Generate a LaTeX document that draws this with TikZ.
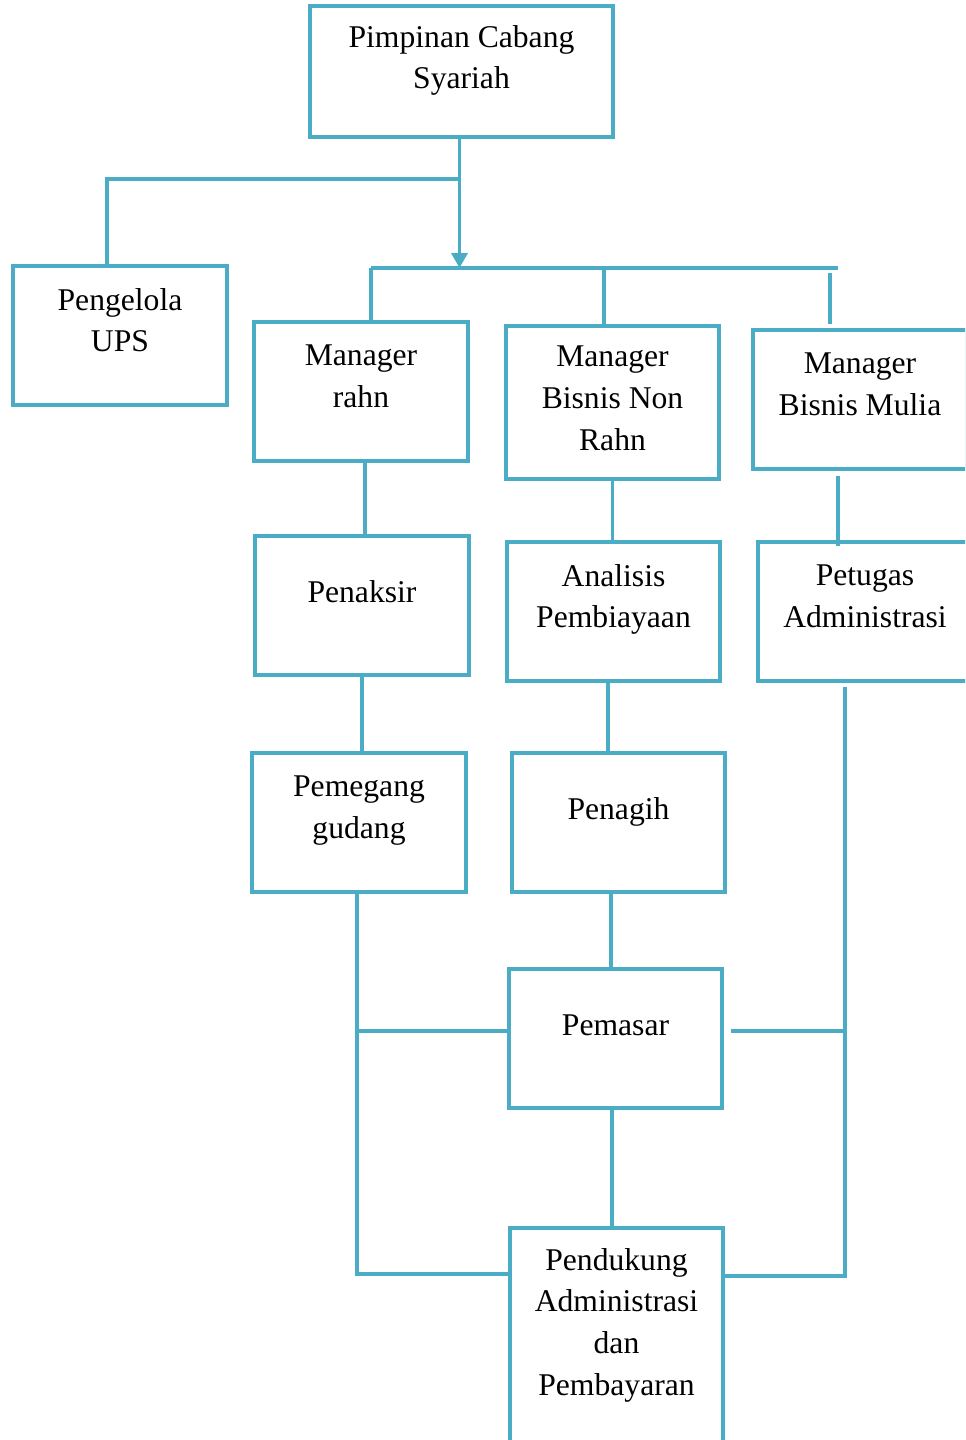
\documentclass[tikz,border=0pt]{standalone}
\usepackage{fontspec}
\setmainfont{Liberation Serif}
\usepackage{xcolor}
\usepackage{tikz}
\usetikzlibrary{arrows.meta}
\definecolor{garis}{HTML}{4BACC6}

\begin{document}
\begin{tikzpicture}[
        kotak/.style={draw=garis,line width=2pt,minimum width=4.28cm,minimum height=2.78cm,inner sep=0pt},
        teks/.style={anchor=north,align=center,inner sep=0pt,font=\fontsize{18}{23.8}\selectfont},
        hub/.style={draw=garis,line width=2pt}]
                    \useasboundingbox (0,0) rectangle (19.3,-28.8);
                    \clip (0,0) rectangle (19.3,-28.8);

                    \node[kotak,minimum width=6.06cm,minimum height=2.62cm] (pcs) at (9.23,-1.43){};
                    \node[kotak] (ups) at (2.40,-6.71){};
                    \node[kotak] (rahn) at (7.22,-7.83){};
                    \node[kotak,minimum width=4.26cm,minimum height=3.06cm] (nonrahn) at (12.25,-8.05){};
                    \node[kotak] (mulia) at (17.20,-7.99){};
                    \node[kotak] (penaksir) at (7.24,-12.11){};
                    \node[kotak,minimum width=4.26cm] (analisis) at (12.27,-12.23){};
                    \node[kotak] (petugas) at (17.30,-12.23){};
                    \node[kotak] (pemegang) at (7.18,-16.45){};
                    \node[kotak,minimum width=4.26cm] (penagih) at (12.37,-16.45){};
                    \node[kotak,minimum width=4.26cm] (pemasar) at (12.31,-20.77){};
                    \node[kotak,minimum width=4.26cm,minimum height=4.64cm] (pendukung) at (12.33,-26.88){};

                    \node[teks] (pcs-t) at ([yshift=-0.41cm]pcs.north){Pimpinan Cabang\\Syariah};
                    \node[teks] (ups-t) at ([yshift=-0.47cm]ups.north){Pengelola\\UPS};
                    \node[teks] (rahn-t) at ([yshift=-0.49cm]rahn.north){Manager\\rahn};
                    \node[teks] (nonrahn-t) at ([yshift=-0.43cm]nonrahn.north){Manager\\Bisnis Non\\Rahn};
                    \node[teks] (mulia-t) at ([yshift=-0.49cm]mulia.north){Manager\\Bisnis Mulia};
                    \node[teks] (penaksir-t) at ([yshift=-0.91cm]penaksir.north){Penaksir};
                    \node[teks] (analisis-t) at ([yshift=-0.47cm]analisis.north){Analisis\\Pembiayaan};
                    \node[teks] (petugas-t) at ([yshift=-0.49cm]petugas.north){Petugas\\Administrasi};
                    \node[teks] (pemegang-t) at ([yshift=-0.49cm]pemegang.north){Pemegang\\gudang};
                    \node[teks] (penagih-t) at ([yshift=-0.91cm]penagih.north){Penagih};
                    \node[teks] (pemasar-t) at ([yshift=-0.95cm]pemasar.north){Pemasar};
                    \node[teks] (pendukung-t) at ([yshift=-0.43cm]pendukung.north){Pendukung\\Administrasi\\dan\\Pembayaran};

                    \coordinate (busL) at (7.42,-5.36);
                    \coordinate (busR) at (16.76,-5.36);
                    \coordinate (cabang) at ([yshift=-0.8cm]pcs.south);
                    \coordinate (kiri) at ([xshift=-0.04cm]pemegang.south);
                    \coordinate (kanan) at ([xshift=-0.4cm,yshift=-0.08cm]petugas.south);
                    \coordinate (pasarL) at ([yshift=0.15cm]pemasar.west);
                    \coordinate (pasarR) at ([xshift=0.14cm,yshift=0.15cm]pemasar.east);

                    \draw[hub,-{Triangle[width=0.32cm,length=0.3cm]}] ([xshift=-0.04cm]pcs.south) -- ([xshift=-0.04cm]pcs.south |- busL);
                    \draw[hub] ([xshift=-0.04cm]cabang) -| ([xshift=-0.26cm]ups.north);
                    \draw[hub] (busL) -- (busR);
                    \draw[hub] (busL) -- (busL |- rahn.north);
                    \draw[hub] ([xshift=-0.17cm]nonrahn.north |- busL) -- ([xshift=-0.17cm]nonrahn.north);
                    \draw[hub,shorten <=0.1cm,shorten >=0.08cm] ([xshift=-0.6cm]mulia.north |- busL) -- ([xshift=-0.6cm]mulia.north);

                    \draw[hub] ([xshift=0.08cm]rahn.south) -- ([xshift=0.08cm]rahn.south |- penaksir.north);
                    \draw[hub] (nonrahn.south) -- (nonrahn.south |- analisis.north);
                    \draw[hub,shorten <=0.1cm] ([xshift=-0.44cm]mulia.south) -- ([xshift=-0.44cm,yshift=-0.12cm]mulia.south |- petugas.north);
                    \draw[hub] (penaksir.south) -- (penaksir.south |- pemegang.north);
                    \draw[hub] ([xshift=-0.11cm,yshift=0.04cm]analisis.south) -- ([xshift=-0.11cm]analisis.south |- penagih.north);
                    \draw[hub] ([xshift=-0.15cm]penagih.south) -- ([xshift=-0.15cm]penagih.south |- pemasar.north);
                    \draw[hub] ([xshift=-0.07cm]pemasar.south) -- ([xshift=-0.07cm]pemasar.south |- pendukung.north);

                    \draw[hub] (kiri) |- ([yshift=1.40cm]pendukung.west);
                    \draw[hub] (pasarL) -- (kiri |- pasarL);
                    \draw[hub] (kanan) |- ([yshift=1.36cm]pendukung.east);
                    \draw[hub] (pasarR) -- (kanan |- pasarR);
                \end{tikzpicture}
\end{document}
